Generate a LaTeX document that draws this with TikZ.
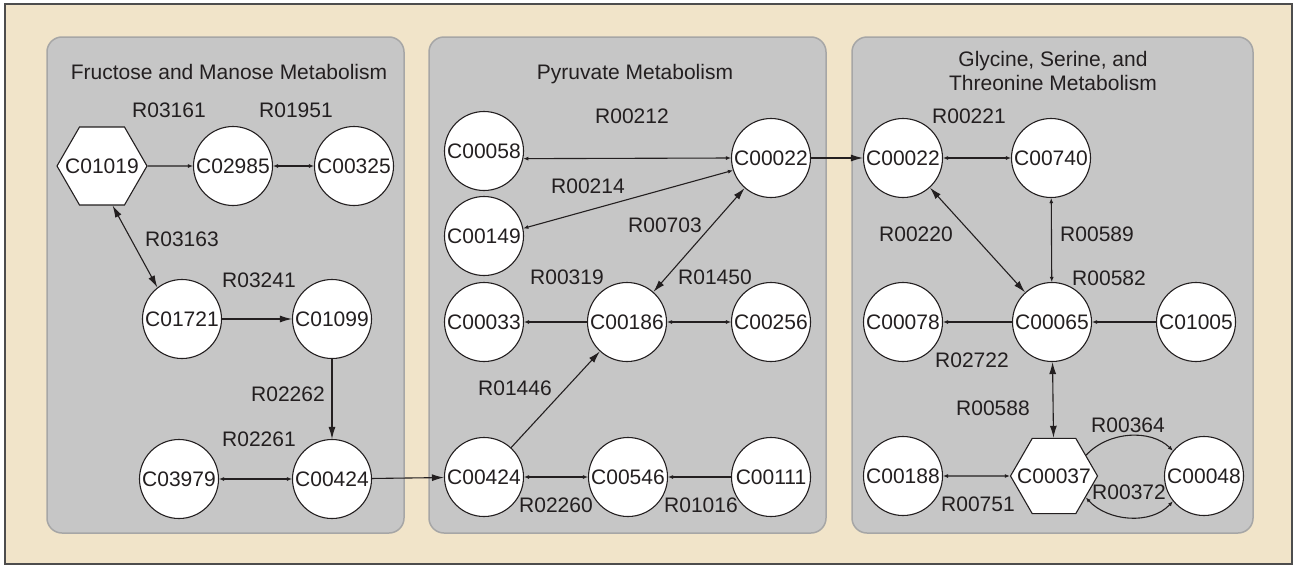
\documentclass[tikz,border=0pt]{standalone}
\usepackage{fontspec}
\setmainfont{Liberation Sans}
\usetikzlibrary{arrows.meta,shapes.geometric}
\definecolor{ink}{HTML}{231F20}
\definecolor{beige}{HTML}{F1E4C9}
\definecolor{panelfill}{HTML}{C6C6C6}
\definecolor{panelline}{HTML}{A6A6A6}
\definecolor{framecol}{HTML}{4D4D4D}
\newcommand{\hexlabel}[1]{\makebox[0pt]{#1}}
\tikzset{
  SmallTip/.tip={Latex[length=5pt,width=4pt]},
  BigTip/.tip={Latex[length=12pt,width=7pt]},
  cnode/.style={circle,draw=ink,fill=white,line width=1.1pt,minimum size=79pt,inner sep=0pt,text=ink},
  hnode/.style={regular polygon,regular polygon sides=6,draw=ink,fill=white,line width=1.1pt,minimum size=90pt,inner sep=0pt,text=ink},
  lbl/.style={text=ink,inner sep=0pt,text height=15pt,text depth=0pt},
  ttl/.style={text=ink,inner sep=0pt,align=center},
  conn/.style={draw=ink,line width=1.1pt},
  panelbox/.style={fill=panelfill,draw=panelline,line width=1.5pt,rounded corners=15pt},
}
\begin{document}
\begin{tikzpicture}[x=1pt,y=-1pt,font=\fontsize{21}{24}\selectfont]
\useasboundingbox (0,0) rectangle (1297,565);
\draw[fill=beige,draw=framecol,line width=1.5pt] (5,4) rectangle (1292,564);
\draw[panelbox] (47,37) rectangle (404,533);
\draw[panelbox] (429,37) rectangle (826,533);
\draw[panelbox] (852,37) rectangle (1253,533);

% titles
\node[lbl] (t1) at (229,72) {Fructose and Manose Metabolism};
\node[lbl] (t2) at (635,72) {Pyruvate Metabolism};
\node[ttl] (t3) at (1053,71) {Glycine, Serine, and\\Threonine Metabolism};

% panel 1 nodes
\node[hnode] (a1) at (102,166) {\hexlabel{C01019}};
\node[cnode] (a2) at (233,166) {C02985};
\node[cnode] (a3) at (354,166) {C00325};
\node[cnode] (a4) at (182,319) {C01721};
\node[cnode] (a5) at (332,319) {C01099};
\node[cnode] (a6) at (179,479) {C03979};
\node[cnode] (a7) at (332,479) {C00424};

% panel 2 nodes
\node[cnode] (b1) at (484,151) {C00058};
\node[cnode] (b2) at (484,236) {C00149};
\node[cnode] (b3) at (771,158) {C00022};
\node[cnode] (b4) at (484,322) {C00033};
\node[cnode] (b5) at (627,322) {C00186};
\node[cnode] (b6) at (771,322) {C00256};
\node[cnode] (b7) at (484,477) {C00424};
\node[cnode] (b8) at (628,477) {C00546};
\node[cnode] (b9) at (771,477) {C00111};

% panel 3 nodes
\node[cnode] (c1) at (903,158) {C00022};
\node[cnode] (c2) at (1051,158) {C00740};
\node[cnode] (c3) at (903,322) {C00078};
\node[cnode] (c4) at (1052,322) {C00065};
\node[cnode] (c5) at (1196,322) {C01005};
\node[cnode] (c6) at (903,476) {C00188};
\node[hnode,minimum size=87pt] (c7) at (1054,476) {\hexlabel{C00037}};
\node[cnode] (c8) at (1204,476) {C00048};

% labels panel 1
\node[lbl] (r1) at (169,110) {R03161};
\node[lbl] (r2) at (296,110) {R01951};
\node[lbl] (r3) at (182,239) {R03163};
\node[lbl] (r4) at (259,280) {R03241};
\node[lbl] (r5) at (288,394) {R02262};
\node[lbl] (r6) at (259,439) {R02261};
% labels panel 2
\node[lbl] (r7) at (632,116) {R00212};
\node[lbl] (r8) at (588,186) {R00214};
\node[lbl] (r9) at (665,225) {R00703};
\node[lbl] (r10) at (567,277) {R00319};
\node[lbl] (r11) at (715,277) {R01450};
\node[lbl] (r12) at (515,388) {R01446};
\node[lbl] (r13) at (556,505) {R02260};
\node[lbl] (r14) at (701,505) {R01016};
% labels panel 3
\node[lbl] (r15) at (969,116) {R00221};
\node[lbl] (r16) at (916,234) {R00220};
\node[lbl] (r17) at (1097,234) {R00589};
\node[lbl] (r18) at (1109,278) {R00582};
\node[lbl] (r19) at (972,360) {R02722};
\node[lbl] (r20) at (993,408) {R00588};
\node[lbl] (r21) at (1128,425) {R00364};
\node[lbl] (r22) at (1129,492) {R00372};
\node[lbl] (r23) at (978,504) {R00751};

% connectors panel 1
\draw[conn,-SmallTip] (a1) -- (a2);
\draw[conn,SmallTip-SmallTip] (a2) -- (a3);
\draw[conn,BigTip-BigTip] (a1.-75) -- (a4.128);
\draw[conn,-BigTip] (a4) -- (a5);
\draw[conn,-BigTip] (a5) -- (a7);
\draw[conn,SmallTip-SmallTip] (a6) -- (a7);
\draw[conn,-BigTip] (a7) -- (b7);

% connectors panel 2
\draw[conn,SmallTip-SmallTip] (b1.-11) -- (b3.west);
\draw[conn,SmallTip-SmallTip] (b2.11) -- (b3.198);
\draw[conn,BigTip-BigTip] (b5) -- (b3);
\draw[conn,-SmallTip] (b5) -- (b4);
\draw[conn,SmallTip-SmallTip] (b5) -- (b6);
\draw[conn,-BigTip] (b7) -- (b5);
\draw[conn,SmallTip-SmallTip] (b7) -- (b8);
\draw[conn,-SmallTip] (b9) -- (b8);
\draw[conn,-BigTip] (b3) -- (c1);

% connectors panel 3
\draw[conn,SmallTip-SmallTip] (c1) -- (c2);
\draw[conn,BigTip-BigTip] (c1) -- (c4);
\draw[conn,SmallTip-SmallTip] (c2) -- (c4);
\draw[conn,-SmallTip] (c4) -- (c3);
\draw[conn,-SmallTip] (c5) -- (c4);
\draw[conn,BigTip-BigTip] (c4) -- (c7);
\draw[conn,SmallTip-SmallTip] (c6) -- (c7);
\draw[conn,-SmallTip] (c7.33) .. controls +(22,-24) and +(-22,-22) .. (c8.141);
\draw[conn,SmallTip-SmallTip] (c8.219) .. controls +(-22,24) and +(22,24) .. (c7.-34);
\end{tikzpicture}
\end{document}
